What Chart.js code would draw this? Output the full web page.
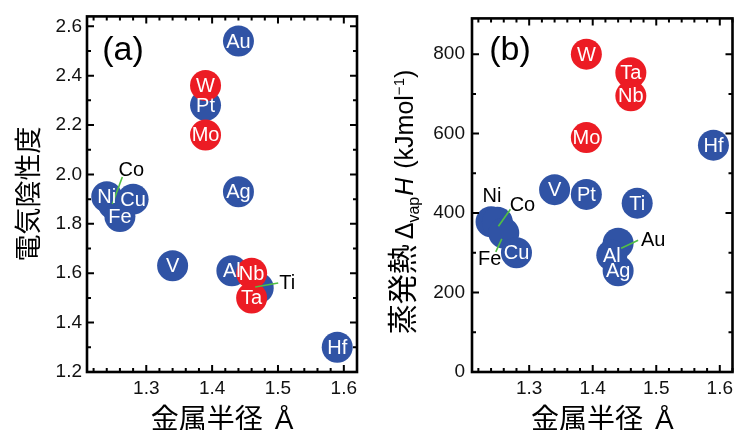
<!DOCTYPE html>
<html>
<head>
<meta charset="utf-8">
<script src="https://cdn.jsdelivr.net/npm/chart.js@4.4.1/dist/chart.umd.min.js"></script>
<style>
  body { margin: 0; background: #fff; }
  .row { display: flex; width: 748px; height: 430px; }
  canvas { display: block; }
</style>
</head>
<body>
<div class="row">
  <canvas id="chartA" width="374" height="430"></canvas>
  <canvas id="chartB" width="374" height="430"></canvas>
</div>
<script>
// Panel (a): electronegativity vs metallic radius
const redNamesA = ['W', 'Mo', 'Nb', 'Ta'];
const redRadiusA = [1.39, 1.39, 1.46, 1.46];
const redEnA = [2.36, 2.16, 1.60, 1.50];

const blueNamesA = ['Au', 'Pt', 'Ag', 'Co', 'Ni', 'Cu', 'Fe', 'V', 'Ti', 'Al', 'Hf'];
const blueRadiusA = [1.44, 1.39, 1.44, 1.25, 1.24, 1.28, 1.26, 1.34, 1.47, 1.43, 1.59];
const blueEnA = [2.54, 2.28, 1.93, 1.88, 1.91, 1.90, 1.83, 1.63, 1.54, 1.61, 1.30];

// Panel (b): heat of vaporization vs metallic radius
const redNamesB = ['W', 'Ta', 'Nb', 'Mo'];
const redRadiusB = [1.39, 1.46, 1.46, 1.39];
const redHvapB = [800, 753, 695, 590];

const blueNamesB = ['Hf', 'V', 'Pt', 'Ti', 'Ni', 'Co', 'Fe', 'Cu', 'Au', 'Al', 'Ag'];
const blueRadiusB = [1.59, 1.34, 1.39, 1.47, 1.24, 1.25, 1.26, 1.28, 1.44, 1.43, 1.44];
const blueHvapB = [571, 459, 447, 425, 378, 377, 350, 300, 324, 294, 255];

// Tick labels
const xTicks = [1.3, 1.4, 1.5, 1.6];
const yTicksA = [1.2, 1.4, 1.6, 1.8, 2.0, 2.2, 2.4, 2.6];
const yTicksB = [0, 200, 400, 600, 800];

const RED = '#ec1c24';
const BLUE = '#3053a5';
const LEAD = '#52c043';
const LATIN = "'Liberation Sans', Arial, sans-serif";
const CJK = "'Noto Sans CJK JP', 'Liberation Sans', sans-serif";

Chart.defaults.font.family = LATIN;

// Labels drawn outside the marker: offsets in px from the point centre
const calloutsA = {
  Co: { text: [18, -35], line: [-1, 0, 9, -27] },
  Ti: { text: [29, -6], line: [-3, -1, 20, -5] }
};
const calloutsB = {
  Ni: { text: [1, -26] },
  Co: { text: [25, -18], line: [1, 4, 13, -13] },
  Fe: { text: [-14, 26], line: [-2, 6, -8, 19] },
  Au: { text: [35, -4], line: [3, 5, 20, -3] }
};

// Element names: white inside the circle, or black with a green leader line
const elementLabels = {
  id: 'elementLabels',
  afterDatasetsDraw(chart, args, opts) {
    const ctx = chart.ctx;
    ctx.save();
    ctx.textAlign = 'center';
    ctx.textBaseline = 'middle';
    ctx.font = '20px ' + LATIN;
    chart.data.datasets.forEach((ds, di) => {
      chart.getDatasetMeta(di).data.forEach((pt, i) => {
        const name = ds.names[i];
        const c = opts.callouts[name];
        if (c) {
          if (c.line) {
            ctx.strokeStyle = LEAD;
            ctx.lineWidth = 1.6;
            ctx.beginPath();
            ctx.moveTo(pt.x + c.line[0], pt.y + c.line[1]);
            ctx.lineTo(pt.x + c.line[2], pt.y + c.line[3]);
            ctx.stroke();
          }
          ctx.fillStyle = '#000';
          ctx.fillText(name, pt.x + c.text[0], pt.y + c.text[1] + 1);
        } else {
          ctx.fillStyle = '#fff';
          ctx.fillText(name, pt.x, pt.y + 1);
        }
      });
    });
    ctx.restore();
  }
};

// Box frame with inward ticks on all four sides
const frameTicks = {
  id: 'frameTicks',
  afterDraw(chart, args, opts) {
    const { ctx, chartArea: a, scales: { x, y } } = chart;
    const steps = (from, to, step) => {
      const out = [];
      for (let k = Math.ceil(from / step - 1e-6); k * step <= to + 1e-6; k++) out.push(k * step);
      return out;
    };
    const isMajor = (v, step) => Math.abs(v / step - Math.round(v / step)) < 1e-6;
    ctx.save();
    ctx.strokeStyle = '#000';
    ctx.lineWidth = 2;
    ctx.beginPath();
    steps(x.min, x.max, opts.xMinor).forEach(v => {
      const px = x.getPixelForValue(v);
      const len = isMajor(v, opts.xMajor) ? 7 : 4;
      ctx.moveTo(px, a.bottom); ctx.lineTo(px, a.bottom - len);
      ctx.moveTo(px, a.top); ctx.lineTo(px, a.top + len);
    });
    steps(y.min, y.max, opts.yMinor).forEach(v => {
      const py = y.getPixelForValue(v);
      const len = isMajor(v, opts.yMajor) ? 7 : 4;
      ctx.moveTo(a.left, py); ctx.lineTo(a.left + len, py);
      ctx.moveTo(a.right, py); ctx.lineTo(a.right - len, py);
    });
    ctx.stroke();
    ctx.lineWidth = 2.6;
    ctx.strokeRect(a.left, a.top, a.right - a.left, a.bottom - a.top);
    ctx.restore();
  }
};

// Text run along one baseline, optionally rotated, centred on (cx, cy)
function drawRun(ctx, parts, cx, cy, vertical) {
  ctx.save();
  ctx.translate(cx, cy);
  if (vertical) ctx.rotate(-Math.PI / 2);
  ctx.fillStyle = '#000';
  ctx.textAlign = 'left';
  ctx.textBaseline = 'alphabetic';
  const widthOf = p => {
    if (p.gap) return p.gap;
    ctx.font = p.font;
    return ctx.measureText(p.text).width;
  };
  const total = parts.reduce((s, p) => s + widthOf(p), 0);
  let pos = -total / 2;
  parts.forEach(p => {
    const w = widthOf(p);
    if (!p.gap) {
      ctx.font = p.font;
      ctx.fillText(p.text, pos, p.dy || 0);
    }
    pos += w;
  });
  ctx.restore();
}

const axisTitles = {
  id: 'axisTitles',
  afterDraw(chart, args, opts) {
    const { ctx, chartArea: a } = chart;
    drawRun(ctx, [
      { text: '金属半径', font: '28px ' + CJK },
      { gap: 12 },
      { text: 'Å', font: '28px ' + LATIN }
    ], (a.left + a.right) / 2, 429, false);
    drawRun(ctx, opts.yTitle, opts.yTitleX, opts.yTitleY, true);
    ctx.save();
    ctx.fillStyle = '#000';
    ctx.font = '34px ' + LATIN;
    ctx.textAlign = 'center';
    ctx.textBaseline = 'middle';
    ctx.fillText(opts.panel, opts.panelX, 51);
    ctx.restore();
  }
};

function points(xs, ys) {
  return xs.map((x, i) => ({ x: x, y: ys[i] }));
}

function makeChart(id, cfg) {
  const dot = { pointRadius: 15.5, pointHoverRadius: 15.5, pointBorderWidth: 0, borderWidth: 0, clip: false };
  return new Chart(document.getElementById(id), {
    type: 'scatter',
    data: {
      datasets: [
        Object.assign({ names: cfg.redNames, data: points(cfg.redX, cfg.redY), backgroundColor: RED }, dot),
        Object.assign({ names: cfg.blueNames, data: points(cfg.blueX, cfg.blueY), backgroundColor: BLUE }, dot)
      ]
    },
    options: {
      responsive: false,
      animation: false,
      events: [],
      layout: { padding: { left: 0, top: 14, right: cfg.padRight, bottom: 0 } },
      scales: {
        x: {
          type: 'linear',
          min: 1.21,
          max: 1.62,
          grid: { display: false, drawTicks: false },
          border: { display: false },
          ticks: {
            color: '#111',
            font: { size: 19 },
            padding: 5,
            autoSkip: false,
            maxRotation: 0,
            callback: v => Number(v).toFixed(1)
          },
          afterBuildTicks: s => { s.ticks = xTicks.map(v => ({ value: v })); },
          afterFit: s => { s.height = 58; }
        },
        y: {
          type: 'linear',
          min: cfg.yMin,
          max: cfg.yMax,
          grid: { display: false, drawTicks: false },
          border: { display: false },
          ticks: {
            color: '#111',
            font: { size: 19 },
            padding: cfg.yPad,
            autoSkip: false,
            callback: cfg.yFormat
          },
          afterBuildTicks: s => { s.ticks = cfg.yTicks.map(v => ({ value: v })); },
          afterFit: s => { s.width = cfg.yWidth; }
        }
      },
      plugins: {
        legend: { display: false },
        tooltip: { enabled: false },
        elementLabels: { callouts: cfg.callouts },
        frameTicks: { xMinor: 0.02, xMajor: 0.1, yMinor: cfg.yMinor, yMajor: cfg.yMajor },
        axisTitles: cfg.titles
      }
    },
    plugins: [elementLabels, frameTicks, axisTitles]
  });
}

makeChart('chartA', {
  redNames: redNamesA, redX: redRadiusA, redY: redEnA,
  blueNames: blueNamesA, blueX: blueRadiusA, blueY: blueEnA,
  yMin: 1.2, yMax: 2.64, yTicks: yTicksA, yMinor: 0.1, yMajor: 0.2,
  yFormat: v => Number(v).toFixed(1), yPad: 5, yWidth: 87, padRight: 17,
  callouts: calloutsA,
  titles: {
    panel: '(a)', panelX: 123,
    yTitleX: 28, yTitleY: 194,
    yTitle: [{ text: '電気陰性度', font: '27px ' + CJK, dy: 10 }]
  }
});

makeChart('chartB', {
  redNames: redNamesB, redX: redRadiusB, redY: redHvapB,
  blueNames: blueNamesB, blueX: blueRadiusB, blueY: blueHvapB,
  yMin: 0, yMax: 890, yTicks: yTicksB, yMinor: 100, yMajor: 200,
  yFormat: v => v, yPad: 7, yWidth: 98, padRight: 6,
  callouts: calloutsB,
  titles: {
    panel: '(b)', panelX: 136,
    yTitleX: 39, yTitleY: 202,
    yTitle: [
      { text: '蒸発熱', font: '30px ' + CJK },
      { gap: 5 },
      { text: 'Δ', font: '25px ' + LATIN },
      { text: 'vap', font: '16px ' + LATIN, dy: 6 },
      { gap: 1 },
      { text: 'H', font: 'italic 25px ' + LATIN },
      { gap: 9 },
      { text: '(kJmol', font: '25px ' + LATIN },
      { text: '−1', font: '15px ' + LATIN, dy: -9 },
      { text: ')', font: '25px ' + LATIN }
    ]
  }
});
</script>
</body>
</html>
